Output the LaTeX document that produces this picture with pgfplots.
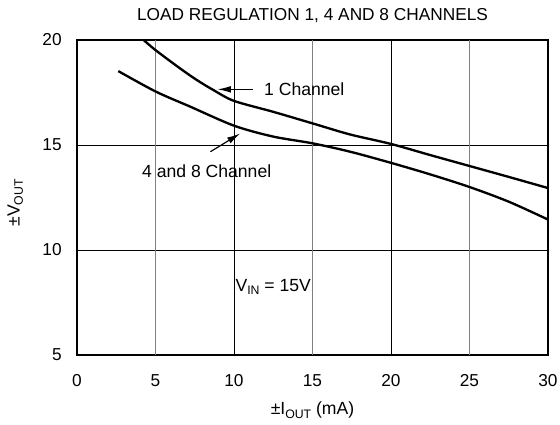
\documentclass[border=0pt]{standalone}
\usepackage{fontspec}
\setmainfont{Liberation Sans}
\usepackage{pgfplots}
\pgfplotsset{compat=1.18}
\usetikzlibrary{arrows.meta}
\newcommand\sub[1]{\raisebox{-0.35ex}{\fontsize{7.4}{8}\selectfont #1}}
\begin{document}
\fontsize{10.6}{12}\selectfont
\begin{tikzpicture}
\path[use as bounding box] (-46.2bp,-42bp) rectangle (289.8bp,213bp);
\begin{axis}[
  at={(0,0)}, anchor=south west,
  scale only axis, width=282.6bp, height=189bp,
  xmin=0, xmax=30, ymin=5, ymax=20,
  xtick={0,10,20,30}, ytick={5,10,15,20},
  extra x ticks={5,15,25},
  extra x tick style={grid style={gray, line width=0.9bp}},
  xmajorgrids, ymajorgrids,
  grid style={black, line width=0.5bp},
  major tick length=0pt,
  axis line style={line width=1.5bp},
  /pgf/number format/assume math mode=true,
  tick label style={font=\fontsize{10.4}{12}\selectfont},
  xticklabel style={anchor=base, yshift=-19bp},
  yticklabel style={anchor=east, inner sep=0pt, xshift=-9bp},
  title={LOAD REGULATION 1, 4 AND 8 CHANNELS},
  title style={at={(axis description cs:0.5,1.031)}, anchor=base, font=\fontsize{10.4}{12}\selectfont},
  xlabel={±I\sub{OUT} (mA)},
  xlabel style={at={(axis description cs:0.5,-0.19)}, anchor=base},
  ylabel={±V\sub{OUT}},
  ylabel style={at={(axis description cs:-0.122,0.483)}, anchor=base},
  clip=true,
]
\addplot[black, line width=1.4bp, smooth] coordinates {
(4.12,20.08) (5,19.52) (6.56,18.65) (7.62,18.1) (8.68,17.62) (10,17.1) (12.5,16.58) (15,16.03) (17.4,15.5) (20,15.05) (22.5,14.52) (25,14.0) (27.5,13.48) (30,12.95)
};
\addplot[black, line width=1.4bp, smooth] coordinates {
(2.63,18.52) (5,17.55) (7.2,16.83) (10,15.92) (12.5,15.4) (15,15.08) (17.4,14.68) (20,14.15) (22.5,13.6) (25,13.0) (27.5,12.3) (30,11.45)
};
\draw[-{Latex[length=8bp,width=4bp]}, line width=0.7bp] (axis cs:11.2,17.65) -- (axis cs:8.95,17.65);
\node[anchor=west, inner sep=0pt] at (axis cs:11.9,17.65) {1 Channel};
\draw[-{Latex[length=8bp,width=4bp]}, line width=0.7bp] (axis cs:8.5,14.68) -- (axis cs:10.4,15.55);
\node[inner sep=0pt] at (axis cs:8.26,13.73) {4 and 8 Channel};
\node[inner sep=0pt] at (axis cs:12.5,8.24) {V\sub{IN} = 15V};
\end{axis}
\end{tikzpicture}
\end{document}
